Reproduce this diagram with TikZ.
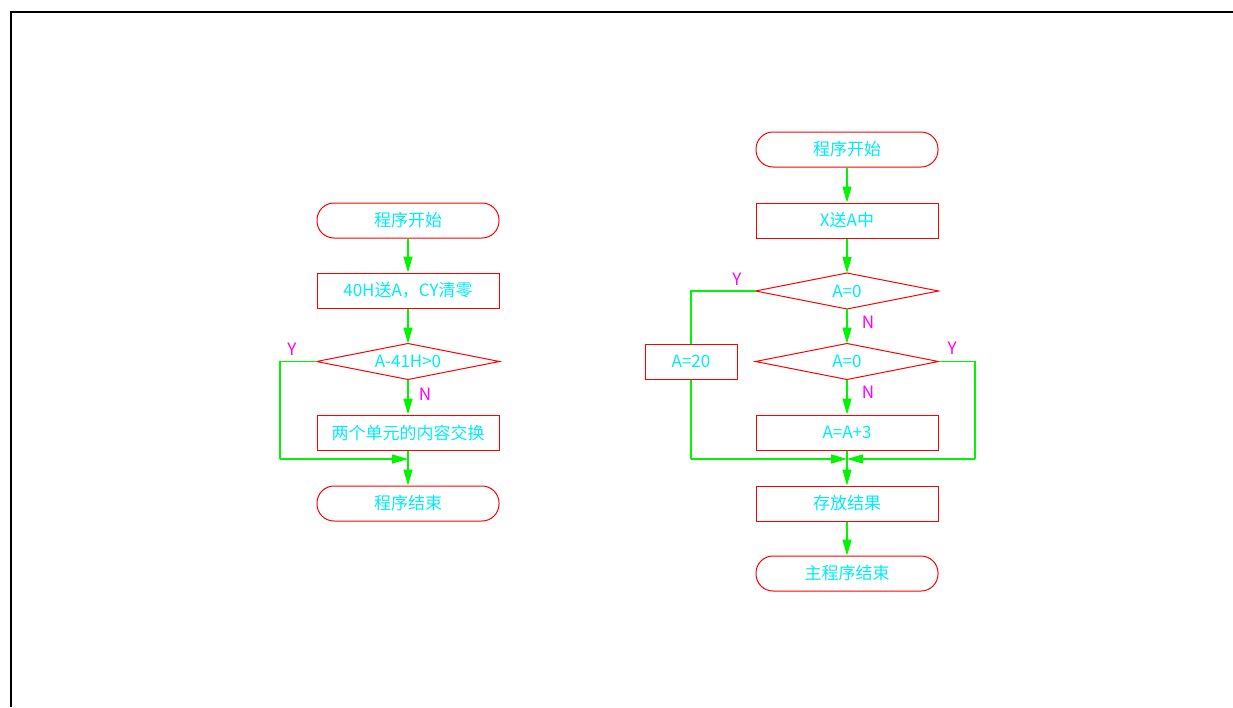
\documentclass[tikz,border=0pt]{standalone}
\usepackage{fontspec}
\setmainfont{Noto Sans CJK SC}
\usetikzlibrary{arrows.meta}
\definecolor{cadred}{RGB}{255,0,0}
\definecolor{cadgreen}{RGB}{0,245,0}
\definecolor{cadcyan}{RGB}{0,235,245}
\definecolor{cadmag}{RGB}{255,0,255}
\tikzset{
  base/.style={draw=cadred, line width=1pt, text=cadcyan, font=\fontsize{17}{20}\selectfont, inner sep=0pt, minimum width=182pt, minimum height=35pt},
  termbox/.style={base, rectangle, rounded corners=17pt},
  procbox/.style={base, rectangle},
  decbox/.style={base, rectangle, draw=none},
  decline/.style={draw=cadred, line width=1pt},
  flow/.style={draw=cadgreen, line width=1.1pt, -{Triangle[length=16pt,width=9pt]}},
  line/.style={draw=cadgreen, line width=1.1pt},
  lab/.style={text=cadmag, font=\fontsize{17}{20}\selectfont, inner sep=0pt}
}
\begin{document}
\begin{tikzpicture}[x=1pt,y=-1pt]
\useasboundingbox (0,0) rectangle (1233,707);
\draw[line width=2pt] (10,12) -- (1233,12);
\draw[line width=2pt] (11,12) -- (11,707);
% left flowchart
\node[termbox] (ls) at (408,220.5) {程序开始};
\node[procbox] (lb1) at (408,290.5) {40H送A，CY清零};
\node[decbox] (ld) at (408,361.5) {A-41H>0};
\draw[decline] (ld.west) -- (ld.north) -- (ld.east) -- (ld.south) -- cycle;
\node[procbox] (lb2) at (408,432.5) {两个单元的内容交换};
\node[termbox] (le) at (408,503.5) {程序结束};
\coordinate (lj) at (408,459);
\coordinate (ll1) at (280,361.5);
\coordinate (ll2) at (280,459);
\draw[flow] (ls) -- (lb1);
\draw[flow] (lb1) -- (ld);
\draw[flow] (ld) -- (lb2);
\draw[flow] (lb2) -- (le);
\draw[line] (ld.west) -- (ll1) -- (ll2);
\draw[flow] (ll2) -- (lj);
\node[lab] at (292,349) {Y};
\node[lab] at (425,394) {N};
% right flowchart
\node[termbox] (rs) at (847,149.5) {程序开始};
\node[procbox] (rb1) at (847,220.5) {X送A中};
\node[decbox] (rd1) at (847,291) {A=0};
\draw[decline] (rd1.west) -- (rd1.north) -- (rd1.east) -- (rd1.south) -- cycle;
\node[decbox] (rd2) at (847,361.5) {A=0};
\draw[decline] (rd2.west) -- (rd2.north) -- (rd2.east) -- (rd2.south) -- cycle;
\node[procbox] (rb2) at (847,432.5) {A=A+3};
\node[procbox] (rb3) at (847,503.5) {存放结果};
\node[termbox] (re) at (847,573.5) {主程序结束};
\node[procbox, minimum width=92pt] (ra) at (691,361.5) {A=20};
\coordinate (rj) at (847,459);
\coordinate (rl1) at (691,291);
\coordinate (rl2) at (691,459);
\coordinate (rr1) at (975,361.5);
\coordinate (rr2) at (975,459);
\draw[flow] (rs) -- (rb1);
\draw[flow] (rb1) -- (rd1);
\draw[flow] (rd1) -- (rd2);
\draw[flow] (rd2) -- (rb2);
\draw[flow] (rb2) -- (rb3);
\draw[flow] (rb3) -- (re);
\draw[line] (rd1.west) -- (rl1) -- (ra.north);
\draw[line] (ra.south) -- (rl2);
\draw[flow] (rl2) -- (rj);
\draw[line] (rd2.east) -- (rr1) -- (rr2);
\draw[flow] (rr2) -- (rj);
\node[lab] at (737,279) {Y};
\node[lab] at (868,322) {N};
\node[lab] at (952,348) {Y};
\node[lab] at (868,392) {N};
\end{tikzpicture}
\end{document}
